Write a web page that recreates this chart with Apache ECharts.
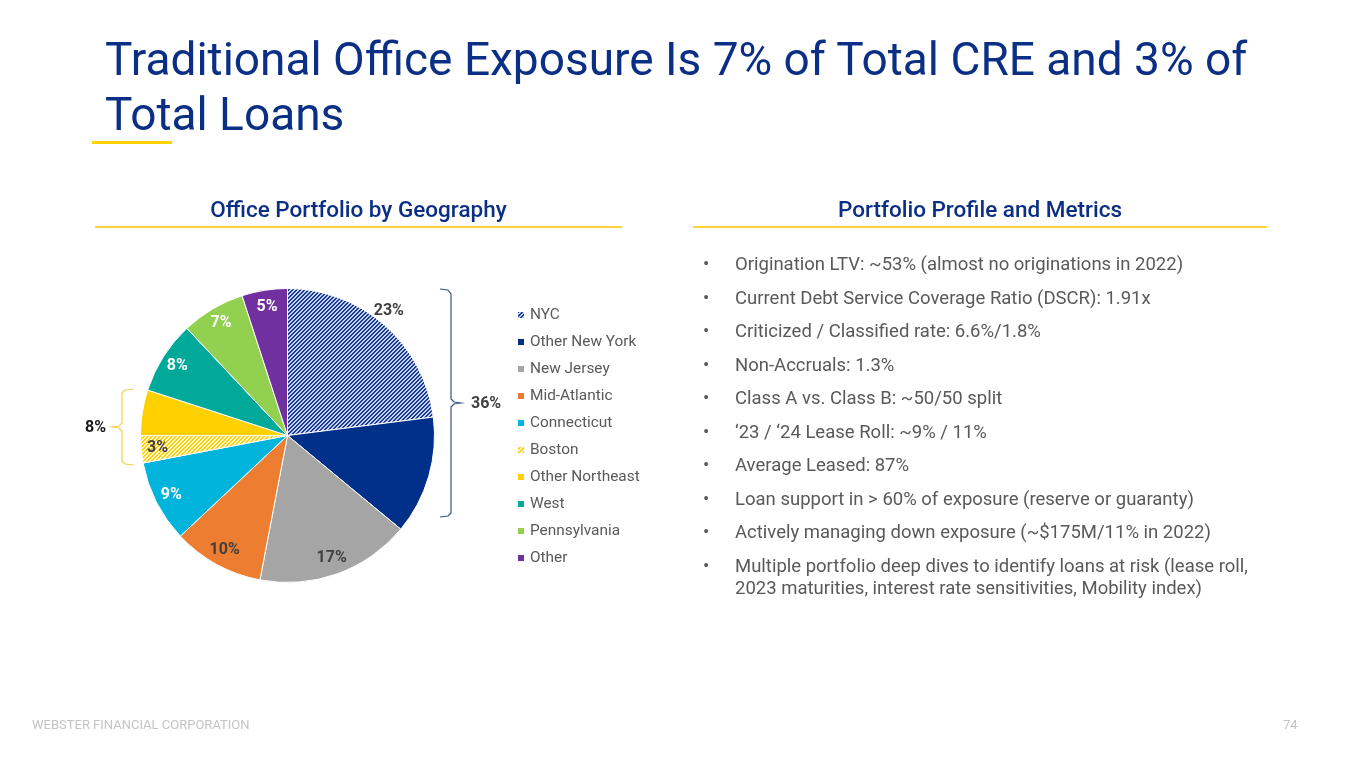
<!DOCTYPE html>
<html>
<head>
<meta charset="utf-8">
<script src="https://cdn.jsdelivr.net/npm/echarts@6/dist/echarts.min.js"></script>
<style>
  html, body { margin:0; padding:0; background:#fff; }
  body { width:1365px; height:768px; position:relative; overflow:hidden; font-family: Roboto, "Noto Sans", sans-serif; }
  #chart { position:absolute; left:0; top:0; width:1365px; height:768px; }
  .title { position:absolute; left:105px; top:32px; font-size:46px; line-height:55px; color:#0a2f84; font-weight:400; white-space:nowrap; }
  .tline { position:absolute; left:92px; top:141px; width:80px; height:3px; background:#ffd200; }
  .hdr { position:absolute; top:196px; font-size:22.5px; line-height:26px; color:#0a2f84; font-weight:500; text-align:center; }
  .hline { position:absolute; top:226px; height:2px; background:#ffd43b; }
  ul.bul { position:absolute; left:706px; top:253px; margin:0; padding:0; list-style:none; font-size:18.5px; line-height:22px; color:#595959; }
  ul.bul li { position:relative; padding-left:29px; margin-bottom:11.5px; width:532px; }
  ul.bul li::before { content:"•"; position:absolute; left:-3px; top:0; }
  .foot { position:absolute; top:717px; font-size:13px; color:#c4c4c4; }
</style>
</head>
<body>
<div id="chart"></div>
<div class="title">Traditional Office Exposure Is 7% of Total CRE and 3% of<br>Total Loans</div>
<div class="tline"></div>
<div class="hdr" style="left:95px;width:527px;">Office Portfolio by Geography</div>
<div class="hline" style="left:95px;width:527px;"></div>
<div class="hdr" style="left:693px;width:574px;">Portfolio Profile and Metrics</div>
<div class="hline" style="left:693px;width:574px;"></div>
<ul class="bul" id="bul"></ul>
<div class="foot" style="left:32px;">WEBSTER FINANCIAL CORPORATION</div>
<div class="foot" style="left:1283px;">74</div>
<script>
// ---- data ----
const categories = ['NYC', 'Other New York', 'New Jersey', 'Mid-Atlantic', 'Connecticut', 'Boston', 'Other Northeast', 'West', 'Pennsylvania', 'Other'];
const shares = [23, 13, 17, 10, 9, 3, 5, 8, 7, 5];
const bracketGroups = [['NYC', 'Other New York'], ['Boston', 'Other Northeast']];
const bullets = [
  'Origination LTV: ~53% (almost no originations in 2022)',
  'Current Debt Service Coverage Ratio (DSCR): 1.91x',
  'Criticized / Classified rate: 6.6%/1.8%',
  'Non-Accruals: 1.3%',
  'Class A vs. Class B: ~50/50 split',
  '\u201823 / \u201824 Lease Roll: ~9% / 11%',
  'Average Leased: 87%',
  'Loan support in > 60% of exposure (reserve or guaranty)',
  'Actively managing down exposure (~$175M/11% in 2022)',
  'Multiple portfolio deep dives to identify loans at risk (lease roll, 2023 maturities, interest rate sensitivities, Mobility index)'
];

// ---- bullets ----
const ul = document.getElementById('bul');
bullets.forEach(t => { const li = document.createElement('li'); li.textContent = t; ul.appendChild(li); });

// ---- styles ----
function stripes(bg, fg) {
  const c = document.createElement('canvas'); c.width = 4; c.height = 4;
  const g = c.getContext('2d');
  g.fillStyle = bg; g.fillRect(0, 0, 4, 4);
  g.fillStyle = fg;
  for (let i = 0; i < 4; i++) { g.fillRect(i, 3 - i, 1, 1); g.fillRect(i, (4 - i) % 4, 1, 1); }
  return { image: c, repeat: 'repeat' };
}
const colorMap = {
  'NYC': stripes('#1a3c8e', '#c2cfee'),
  'Other New York': '#00308a',
  'New Jersey': '#a5a5a5',
  'Mid-Atlantic': '#ed7d31',
  'Connecticut': '#00b4dc',
  'Boston': stripes('#fff8dc', '#ffd000'),
  'Other Northeast': '#ffd000',
  'West': '#00a99a',
  'Pennsylvania': '#92d050',
  'Other': '#7030a0'
};
const labelMap = {
  'NYC': { color: '#404040', offset: [15, -27] },
  'Other New York': { show: false },
  'New Jersey': { color: '#404040' },
  'Mid-Atlantic': { color: '#404040' },
  'Boston': { color: '#404040' },
  'Other Northeast': { show: false }
};

const CX = 287.5, CY = 435.5, R = 147;
const mainData = categories.map((n, i) => ({ name: n, value: shares[i], itemStyle: { color: colorMap[n] } }));
const labelData = categories.map((n, i) => ({ name: n, value: shares[i], label: labelMap[n] || {} }));

function groupSum(g) { return g.reduce((s, n) => s + shares[categories.indexOf(n)], 0); }
const total36 = groupSum(bracketGroups[0]);
const total8 = groupSum(bracketGroups[1]);

const chart = echarts.init(document.getElementById('chart'), null, { renderer: 'canvas' });
chart.setOption({
  animation: false,
  legend: {
    orient: 'vertical', left: 511, top: 301,
    data: categories,
    icon: 'rect', itemWidth: 8, itemHeight: 8, itemGap: 9,
    textStyle: { fontFamily: 'Roboto', fontSize: 15.4, color: '#595959', lineHeight: 18 },
    selectedMode: false
  },
  series: [
    {
      type: 'pie', center: [CX, CY], radius: R, startAngle: 90, clockwise: true,
      data: mainData,
      label: { show: false }, labelLine: { show: false },
      itemStyle: { borderColor: '#ffffff', borderWidth: 1 },
      emphasis: { disabled: true }
    },
    {
      type: 'pie', center: [CX, CY], radius: [108, R], startAngle: 90, clockwise: true,
      data: labelData, silent: true,
      itemStyle: { color: 'rgba(0,0,0,0)', borderWidth: 0 },
      label: { show: true, position: 'inside', formatter: '{c}%', color: '#ffffff', fontFamily: 'Roboto', fontWeight: 'bold', fontSize: 16 },
      labelLine: { show: false },
      emphasis: { disabled: true }
    }
  ],
  graphic: [
    { type: 'polyline', shape: { points: [[440, 289], [448, 290], [451, 294], [451, 399], [454, 402], [461, 403], [454, 404], [451, 407], [451, 513], [448, 516], [440, 517]] },
      style: { stroke: '#3a5283', lineWidth: 1.2, fill: null } },
    { type: 'text', left: 471, top: 396, style: { text: total36 + '%', fontFamily: 'Roboto', fontWeight: 'bold', fontSize: 16, fill: '#404040' } },
    { type: 'polyline', shape: { points: [[134, 389], [125, 390], [122, 393], [122, 423], [119, 426], [112, 427], [119, 428], [122, 431], [122, 461], [125, 464], [134, 465]] },
      style: { stroke: '#f3cf48', lineWidth: 1.2, fill: null } },
    { type: 'text', right: 1365 - 106, top: 420, style: { text: total8 + '%', fontFamily: 'Roboto', fontWeight: 'bold', fontSize: 16, fill: '#1a1a1a', align: 'right' } }
  ]
});
</script>
</body>
</html>
